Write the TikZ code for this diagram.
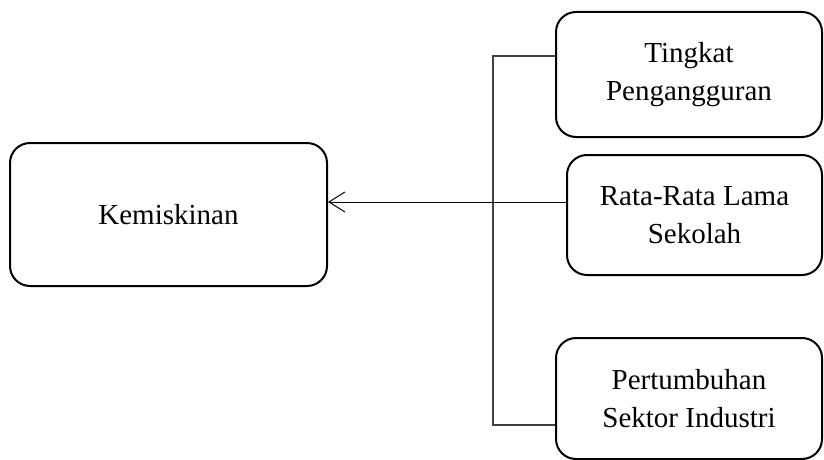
\documentclass[tikz,border=0pt]{standalone}
\usepackage{fontspec}
\setmainfont{Liberation Serif}
\usetikzlibrary{arrows.meta}

\tikzset{
    box/.style={draw=black, line width=2pt, rounded corners=20pt, align=center,
        font=\fontsize{29}{38}\selectfont, inner sep=0pt},
    link/.style={draw=black!75, line width=1.3pt},
    pointer/.style={draw=black, line width=1pt, -{Straight Barb[length=16pt, width=20pt, line width=1pt]}}
}

\begin{document}
\begin{tikzpicture}[x=1pt, y=-1pt]
    \useasboundingbox (0,0) rectangle (824,460);

    % boxes
    \node[box, minimum width=317pt, minimum height=143pt] (kemiskinan) at (168.5,214.5) {Kemiskinan};
    \node[box, minimum width=266pt, minimum height=125pt] (tingkat) at (689,74.5) {Tingkat\\Pengangguran};
    \node[box, minimum width=255pt, minimum height=120pt] (ratarata) at (694.5,215) {Rata-Rata Lama\\Sekolah};
    \node[box, minimum width=266pt, minimum height=121pt] (pertumbuhan) at (689,398.5) {Pertumbuhan\\Sektor Industri};

    % bracket
    \coordinate (brtop) at (493,56);
    \coordinate (brbot) at (493,425);
    \coordinate (junction) at (493,202);
    \draw[link] (tingkat.west |- brtop) -- (brtop) -- (brbot) -- (pertumbuhan.west |- brbot);

    % arrow
    \draw[pointer] (ratarata.west |- junction) -- (kemiskinan.east |- junction);
\end{tikzpicture}
\end{document}
